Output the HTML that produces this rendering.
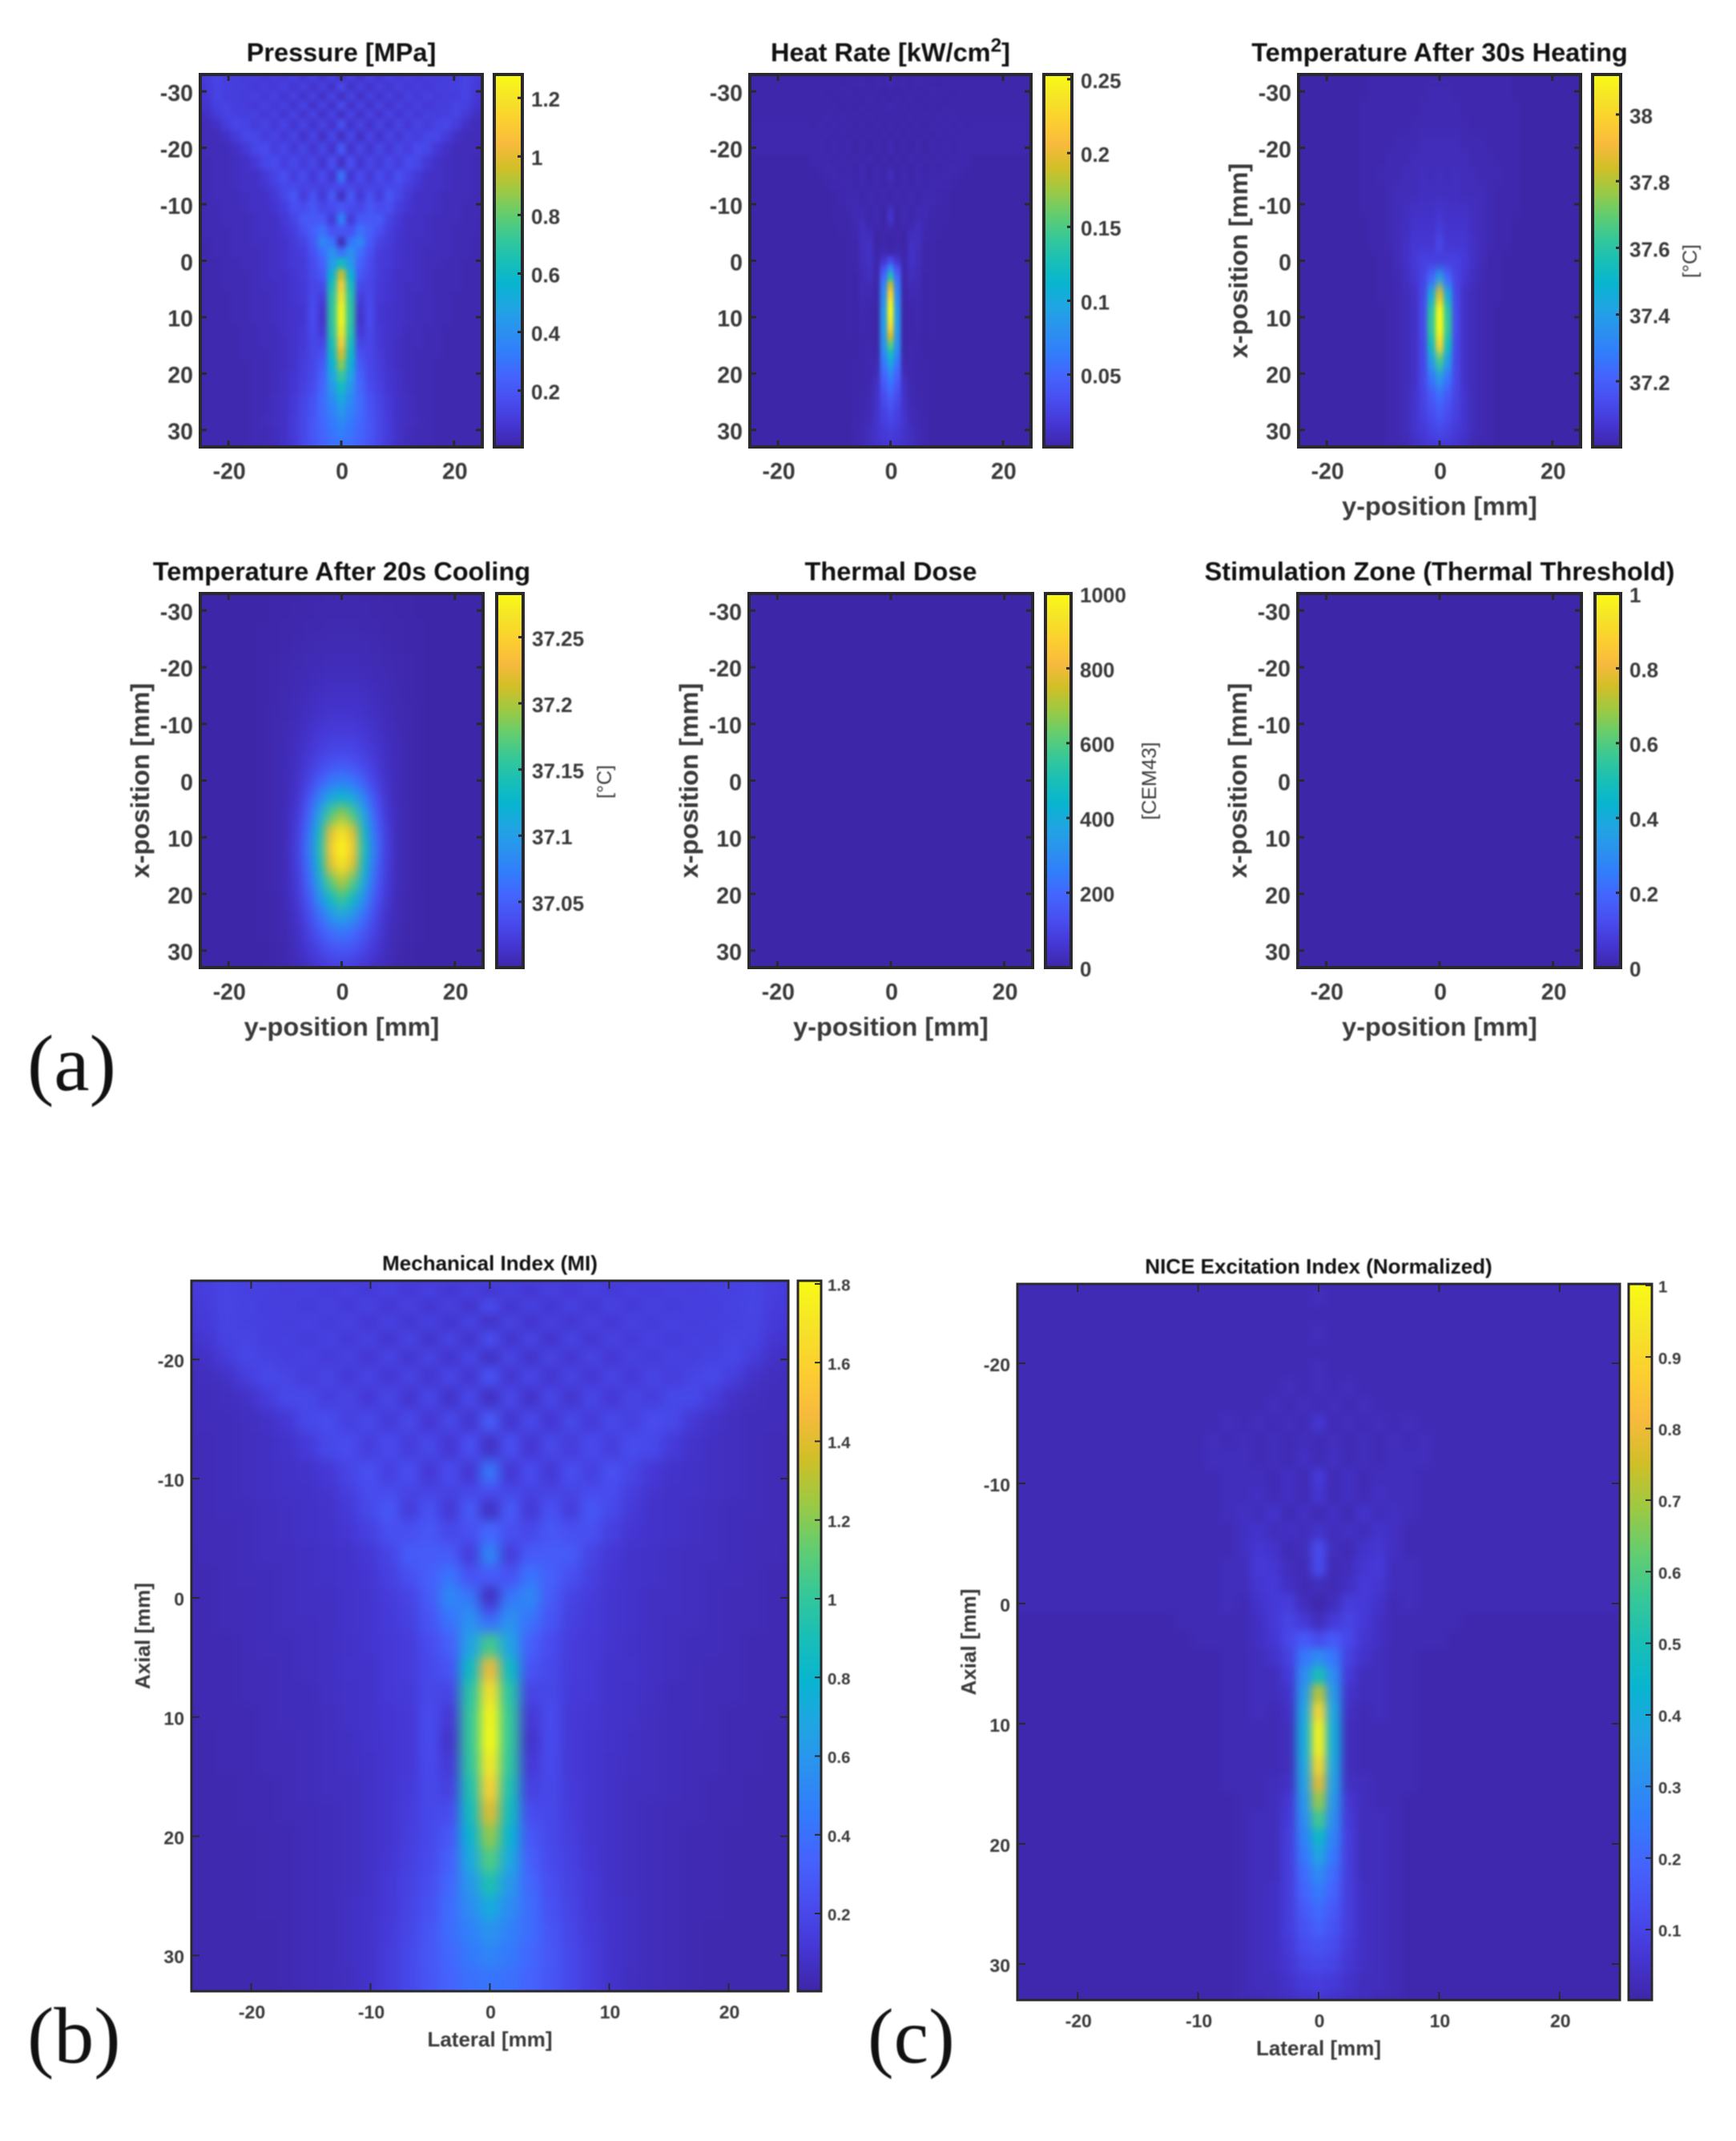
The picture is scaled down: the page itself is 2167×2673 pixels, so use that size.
<!DOCTYPE html>
<html lang="en">
<head>
<meta charset="utf-8">
<title>Ultrasound field maps</title>
<style>
html,body{margin:0;padding:0;background:#fff;}
svg{display:block;}
text{font-family:"Liberation Sans",Arial,sans-serif;}
.soft{filter:blur(0.85px);}
.panel-letter{font-family:"Liberation Serif",serif;fill:#111;}
</style>
</head>
<body>
<svg id="figure" xmlns="http://www.w3.org/2000/svg" width="2167" height="2673" viewBox="0 0 2167 2673">
<rect x="0" y="0" width="2167" height="2673" fill="#ffffff"/>
<g class="soft">
<text class="panel-letter" x="34" y="1361" font-size="100">(a)</text>
<text class="panel-letter" x="34" y="2575" font-size="100">(b)</text>
<text class="panel-letter" x="1083" y="2575" font-size="98">(c)</text>
</g>
</svg>
<script>
// Half-field values (mirrored about lateral 0). Columns run outward from lateral 0; rows run along the axial axis.
// Lattice-aligned lateral positions (mm) used by the pressure and mechanical-index fields.
const latticeLateral = [0,1.7,3.4,5.1,6.8,8.5,10.2,11.9,13.6,15.3,17,18.7,20.4,22.1,23.8,25.5];
// Pressure axial positions (mm).
const pressureAxial = [-32.3,-30.9,-29,-27.5,-25.9,-24.2,-22,-19.9,-17.4,-14.7,-13.1,-11.6,-9.4,-7.3,-5.2,-3.2,-1.5,0.5,2.5,4.5,6.5,8.5,10.5,12.5,14.5,16.5,18.5,20.5,22.5,24.5,26.5,28.5,30.5,32.5];
// Pressure, hundredths of MPa.
const pressureRows = [
[6,12,7,12,8,12,9,11,9,11,10,11,11,13,11,9],
[16,6,12,7,12,8,12,9,11,9,11,11,12,13,10,8],
[5,13,6,12,7,12,8,12,9,12,10,11,11,13,9,7],
[17,6,13,6,13,7,12,9,12,9,11,11,13,12,8,6],
[5,13,6,13,7,13,8,12,9,12,11,12,13,10,6,4],
[18,7,13,7,13,8,13,9,13,10,13,14,11,6,4,4],
[5,14,6,13,7,13,9,13,11,14,14,10,6,4,4,4],
[21,7,14,8,14,9,14,11,16,14,9,6,4,4,4,3],
[6,17,8,14,10,15,11,16,14,9,6,5,4,4,3,3],
[30,8,16,9,16,11,17,13,9,6,6,5,4,4,3,3],
[15,14,12,13,13,15,15,11,8,6,6,5,4,4,3,3],
[5,21,9,18,10,20,14,9,6,6,5,4,4,4,3,3],
[20,16,14,20,16,17,11,8,6,6,5,4,4,3,3,3],
[35,10,21,21,21,13,9,6,6,5,4,4,4,3,3,2],
[20,18,29,23,17,11,8,6,6,5,4,4,3,3,3,2],
[4,30,37,21,13,10,7,6,5,5,4,4,3,3,2,2],
[28,41,28,18,11,9,7,6,5,4,4,4,3,3,2,2],
[62,44,24,16,10,9,7,6,5,4,4,3,3,2,2,2],
[95,55,20,15,10,8,6,6,5,4,3,3,3,2,2,2],
[112,64,15,14,9,8,6,5,5,4,3,3,3,2,2,2],
[120,68,11,15,9,8,6,5,4,4,3,3,2,2,2,2],
[126,70,8,16,8,7,6,5,4,4,3,3,2,2,2,2],
[127,70,7,16,8,7,6,5,4,4,3,3,2,2,2,2],
[122,68,9,15,9,7,6,4,4,3,3,2,2,2,2,2],
[112,64,13,14,9,7,5,4,4,3,3,2,2,2,2,2],
[98,60,17,14,10,7,5,4,3,3,3,2,2,2,2,2],
[85,54,21,14,11,7,5,4,3,3,2,2,2,2,2,2],
[72,48,24,15,11,8,6,4,3,3,2,2,2,2,2,2],
[62,43,26,16,12,8,6,4,3,3,2,2,2,2,2,2],
[52,38,27,18,13,9,6,5,3,3,2,2,2,2,2,2],
[44,35,27,19,14,9,6,5,3,3,2,2,2,2,2,2],
[38,32,26,20,14,10,6,5,4,3,2,2,2,2,2,2],
[34,30,25,20,14,10,6,4,3,3,2,2,2,2,2,2],
[30,28,24,19,14,9,6,4,3,3,2,2,2,2,2,2]
];
// Heat rate, thousandths of kW/cm2; columns every 1.25 mm, rows every 1.5 mm from -33.
const heatRows = [
[2,2,2,2,2,2,2,2,2,2,2,2,2],
[4,2,3,1,3,2,2,1,2,2,2,2,2],
[2,1,2,2,2,1,3,2,2,1,2,2,2],
[1,2,1,3,1,2,2,2,1,2,2,2,2],
[4,2,3,1,3,1,2,1,3,2,2,2,2],
[1,2,1,3,1,3,1,3,2,3,2,2,2],
[4,1,3,1,3,1,3,2,3,2,3,2,3],
[1,3,1,3,1,3,1,3,2,3,2,3,3],
[4,1,3,1,3,1,3,2,3,2,3,3,3],
[5,1,3,1,3,1,3,2,3,2,3,3,3],
[1,3,1,4,1,3,2,3,2,3,3,3,1],
[3,2,3,1,4,1,3,2,3,4,3,2,1],
[9,1,4,1,4,2,3,3,4,3,2,1,1],
[4,1,3,2,4,2,4,4,3,2,1,1,1],
[1,4,2,4,2,4,4,3,2,1,1,1,1],
[2,3,2,5,2,5,5,3,2,1,1,1,1],
[10,1,5,2,5,5,3,2,2,1,1,1,1],
[14,1,5,2,6,5,2,2,2,1,1,1,1],
[6,1,3,4,8,4,2,2,1,1,1,1,1],
[1,2,1,8,9,3,2,2,1,1,1,0,0],
[0,2,1,10,9,2,2,1,1,1,1,0,0],
[2,4,1,11,8,2,2,1,1,1,0,0,0],
[30,14,2,11,8,2,2,1,1,1,0,0,0],
[80,35,2,9,7,2,2,1,1,1,0,0,0],
[135,52,2,9,6,1,2,1,1,0,0,0,0],
[190,68,1,6,6,1,2,1,1,0,0,0,0],
[225,75,1,5,5,1,2,1,1,0,0,0,0],
[245,80,1,3,4,1,2,0,1,0,0,0,0],
[252,85,0,2,4,1,2,0,1,0,0,0,0],
[245,88,0,2,3,1,2,0,1,0,0,0,0],
[225,88,0,2,3,1,2,0,1,0,0,0,0],
[190,84,0,2,2,1,2,0,1,0,0,0,0],
[155,80,1,3,2,1,1,0,1,0,0,0,0],
[125,72,2,3,2,1,1,1,1,0,0,0,0],
[100,62,4,4,2,2,1,1,1,0,0,0,0],
[80,52,6,3,2,2,1,1,1,0,0,0,0],
[65,45,9,3,2,2,1,1,0,0,0,0,0],
[55,38,10,4,2,2,1,1,0,0,0,0,0],
[46,32,12,4,3,2,1,1,0,0,0,0,0],
[38,28,12,5,3,2,1,1,0,0,0,0,0],
[32,24,13,6,4,2,1,1,0,0,0,0,0],
[27,22,14,7,4,3,1,1,0,0,0,0,0],
[22,19,13,8,5,3,1,1,0,0,0,0,0],
[19,17,13,9,5,3,1,1,0,0,0,0,0],
[15,14,11,8,5,2,1,0,0,0,0,0,0]
];
// Temperature rise after heating, hundredths of a degree above 37; columns every 1.5 mm, rows every 3 mm from -33.
const heatingRows = [
[1,1,1,1,1,1,1,1,1,0,0],
[2,2,1,1,1,1,1,1,1,0,0],
[2,2,2,1,1,1,1,1,1,1,0],
[2,2,2,2,1,1,1,1,1,1,0],
[3,3,3,2,2,2,1,1,1,1,0],
[3,3,3,3,2,2,2,1,1,1,0],
[4,3,4,3,3,2,2,2,1,1,0],
[4,4,4,3,3,3,2,1,1,1,0],
[6,5,5,5,4,3,2,1,1,1,0],
[8,6,6,6,4,3,2,1,1,0,0],
[12,7,7,7,5,3,2,1,1,0,0],
[9,10,10,8,5,3,1,1,0,0,0],
[40,22,11,7,4,2,1,1,0,0,0],
[86,44,12,5,3,2,1,1,0,0,0],
[118,60,13,5,3,2,1,0,0,0,0],
[124,62,13,5,3,2,1,0,0,0,0],
[100,54,12,5,3,2,1,0,0,0,0],
[64,38,12,5,3,2,1,0,0,0,0],
[38,26,12,5,3,2,1,0,0,0,0],
[24,18,11,6,3,2,1,0,0,0,0],
[18,14,10,6,3,2,1,0,0,0,0],
[13,11,8,6,3,2,1,0,0,0,0],
[8,7,6,4,2,1,1,0,0,0,0]
];
// Temperature rise after cooling, thousandths of a degree above 37; columns every 2 mm, rows every 3 mm from -33.
const coolingRows = [
[3,3,2,2,1,1,1,0,0],
[3,3,3,2,2,1,1,0,0],
[4,4,3,3,2,2,1,1,0],
[5,5,5,4,3,2,1,1,0],
[7,7,6,5,4,3,2,1,0],
[9,9,8,6,5,3,2,1,0],
[12,12,11,8,6,4,2,1,0],
[15,15,13,10,7,4,3,1,0],
[20,20,17,13,8,5,3,1,0],
[28,27,22,16,10,6,3,1,0],
[42,38,30,20,11,6,3,1,0],
[72,65,46,26,13,6,3,1,0],
[125,110,75,38,15,6,3,1,0],
[195,165,105,50,18,7,3,1,0],
[265,220,130,60,22,7,3,1,0],
[292,240,140,65,24,7,3,1,0],
[265,220,130,60,22,7,3,1,0],
[205,170,110,52,20,7,3,1,0],
[160,130,85,42,17,6,2,1,0],
[105,90,60,32,13,5,2,1,0],
[65,58,42,24,11,4,2,1,0],
[42,38,28,17,9,3,1,0,0],
[25,22,17,10,6,2,1,0,0]
];
// Thermal dose, CEM43; the whole field reads as zero.
const doseRows = [
[0,0,0],
[0,0,0],
[0,0,0]
];
// Stimulation zone mask; the whole field reads as zero.
const stimulationRows = [
[0,0,0],
[0,0,0],
[0,0,0]
];
// Mechanical index axial positions (mm).
const mechanicalAxial = [-27,-25.8,-24.5,-23.1,-21.7,-20.2,-18.6,-16.8,-14.8,-12.9,-10.2,-8.85,-7.5,-5.5,-3.6,-1.8,0,1,2,4,6,8,10,12,14,16,18,20,22,24,26,28,30,32];
// Mechanical index, hundredths.
const mechanicalRows = [
[20,10,16,11,16,12,16,12,16,13,15,15,17,18,15,13],
[9,17,10,17,11,17,12,16,13,16,14,16,16,18,15,12],
[23,9,17,10,17,11,17,12,16,13,16,15,17,18,14,11],
[7,18,9,17,10,17,11,17,13,17,14,16,16,18,13,10],
[24,9,18,9,18,10,17,12,17,13,16,15,18,17,11,8],
[7,19,9,18,10,18,11,17,13,17,15,17,19,14,8,6],
[26,10,19,10,18,11,18,12,18,14,18,20,15,8,6,5],
[7,20,9,19,10,19,12,18,15,20,20,14,8,6,5,5],
[30,10,20,11,20,13,20,16,22,20,12,8,6,5,5,4],
[8,24,11,20,14,21,15,22,20,13,9,7,6,5,4,4],
[42,11,22,12,23,16,24,18,12,9,8,7,6,5,4,4],
[22,20,17,18,18,22,22,15,10,8,8,7,6,5,4,4],
[7,30,12,25,14,28,20,13,9,8,7,6,5,5,4,4],
[36,24,20,28,24,24,16,11,9,8,7,6,5,4,4,4],
[50,14,30,30,30,18,12,9,8,7,6,6,5,4,4,3],
[30,26,42,32,24,16,11,9,8,7,6,5,5,4,3,3],
[6,42,52,30,18,14,10,9,7,7,6,5,4,4,3,3],
[20,52,46,28,17,13,10,9,7,7,6,5,4,4,3,3],
[42,58,40,26,16,13,10,9,7,6,6,5,4,4,3,3],
[105,66,32,22,14,12,10,8,7,6,5,5,4,3,3,3],
[145,84,26,20,14,12,9,9,7,6,5,4,4,3,3,3],
[168,96,18,20,13,12,9,8,7,5,5,4,4,3,3,3],
[178,100,12,22,12,11,9,8,6,5,5,4,3,3,3,2],
[180,100,9,22,12,10,9,7,6,5,4,4,3,3,2,2],
[172,98,12,21,12,10,8,7,6,5,4,4,3,3,2,2],
[160,92,16,20,13,10,8,6,6,5,4,3,3,2,2,2],
[140,86,22,20,14,10,8,6,5,4,4,3,3,2,2,2],
[122,78,28,20,15,10,8,6,5,4,3,3,2,2,2,2],
[108,70,32,21,16,11,8,6,5,4,3,3,2,2,2,2],
[92,60,36,23,17,12,8,6,5,4,3,3,2,2,2,2],
[72,54,38,25,18,12,9,7,5,4,3,3,2,2,2,2],
[58,48,38,27,19,13,9,7,5,4,3,2,2,2,2,2],
[50,44,36,28,20,14,9,7,5,4,3,2,2,2,2,2],
[42,40,34,27,20,14,9,6,5,4,3,2,2,2,2,2]
];
// NICE excitation index, hundredths; columns every 1.25 mm, rows every 1.5 mm from -27.
const niceRows = [
[2,2,2,2,2,2,2,2,2,2,2,2,2],
[3,2,2,2,2,2,2,2,2,2,2,2,2],
[2,2,2,2,2,2,2,2,2,2,2,2,2],
[3,2,2,2,2,2,2,2,2,2,2,2,2],
[2,2,2,2,2,2,2,2,2,2,2,2,2],
[3,2,2,2,2,2,2,2,2,2,2,2,2],
[3,2,3,2,2,2,2,2,2,2,2,2,2],
[2,3,2,3,2,2,2,2,2,2,2,2,2],
[6,2,3,2,3,2,3,2,2,2,2,2,2],
[2,3,2,3,2,3,2,3,2,2,2,2,2],
[2,4,2,3,2,3,3,3,2,2,2,2,2],
[7,2,4,2,3,3,3,2,2,2,2,2,2],
[6,2,4,2,4,3,3,2,2,2,2,2,2],
[2,4,2,5,3,4,3,2,2,2,2,2,2],
[5,3,4,3,5,4,2,2,2,2,2,2,2],
[12,3,2,5,6,4,2,2,2,2,2,2,2],
[12,2,3,6,7,3,3,2,2,2,2,2,2],
[3,2,4,7,6,3,3,2,2,2,2,2,2],
[1,3,8,7,5,2,3,2,2,2,2,2,2],
[3,7,10,7,4,2,2,2,2,2,1,1,1],
[12,16,11,6,4,2,2,2,2,1,1,1,1],
[30,24,9,5,3,2,2,1,1,1,1,1,1],
[50,30,7,3,3,2,2,1,1,1,1,1,1],
[72,34,5,3,3,2,2,1,1,1,1,1,1],
[90,38,4,2,3,2,2,1,1,1,1,1,1],
[98,40,3,2,2,2,2,1,1,1,1,1,1],
[98,40,3,2,2,2,2,1,1,1,1,1,1],
[90,38,3,2,2,2,2,1,1,1,1,1,1],
[78,36,4,3,2,2,2,1,1,1,1,1,1],
[68,33,6,3,2,2,1,1,1,1,1,1,1],
[58,30,7,3,3,2,1,1,1,1,1,1,1],
[46,27,8,3,3,2,1,1,1,1,1,1,1],
[38,24,8,3,3,2,1,1,1,1,1,1,1],
[30,21,8,3,3,2,1,1,1,1,1,1,1],
[25,19,8,4,3,2,1,1,1,1,1,1,1],
[21,16,8,4,3,2,1,1,1,1,1,1,1],
[18,14,8,4,3,2,1,1,1,1,1,1,1],
[14,12,7,4,3,2,1,1,1,1,1,1,1],
[11,10,6,4,3,2,1,1,1,1,1,1,1],
[8,7,5,3,3,2,1,1,1,1,1,1,1],
[6,5,4,3,2,2,1,1,1,1,1,1,1]
];

// Tick labels.
const lateralTicksWide = [-20,0,20];
const axialTicksWide = [-30,-20,-10,0,10,20,30];
const lateralTicksFine = [-20,-10,0,10,20];
const axialTicksFine = [-20,-10,0,10,20,30];
const pressureBarTicks = [0.2,0.4,0.6,0.8,1,1.2];
const heatBarTicks = [0.05,0.1,0.15,0.2,0.25];
const heatingBarTicks = [37.2,37.4,37.6,37.8,38];
const coolingBarTicks = [37.05,37.1,37.15,37.2,37.25];
const doseBarTicks = [0,200,400,600,800,1000];
const stimulationBarTicks = [0,0.2,0.4,0.6,0.8,1];
const mechanicalBarTicks = [0.2,0.4,0.6,0.8,1,1.2,1.4,1.6,1.8];
const niceBarTicks = [0.1,0.2,0.3,0.4,0.5,0.6,0.7,0.8,0.9,1];

const parula = [[62,38,168],[69,55,213],[72,77,240],[69,99,253],[50,124,252],[43,145,239],[32,165,227],[8,181,208],[25,191,182],[55,200,151],[100,205,111],[157,201,67],[209,191,39],[248,186,61],[252,207,48],[245,228,39],[249,251,21]];

const styleLarge = {title:32.5,tick:28.5,label:32.5,bar:26,unit:25,frame:4,tickLen:8,titleGap:16.5,xTickGap:40,xLabelGap:85,yTickGap:9,yLabelGap:64,barGap:11};
const styleSmall = {title:26,tick:23,label:26,bar:20.5,unit:25,frame:3,tickLen:10,titleGap:13,xTickGap:34,xLabelGap:69,yTickGap:9,yLabelGap:52,barGap:8};

const panels = [
{id:'pressure',title:'Pressure [MPa]',ink:[250,93,352,465],bar:[617,93,35,465],yRange:[-33,33],rows:pressureRows,axial:pressureAxial,lateral:latticeLateral,base:0,unit:0.01,cRange:[0.0075,1.28],xTicks:lateralTicksWide,yTicks:axialTicksWide,barTicks:pressureBarTicks,style:styleLarge,blur:'3.5'},
{id:'heat-rate',title:'Heat Rate [kW/cm',sup:'2',titleEnd:']',ink:[936,93,351,465],bar:[1303,93,35,465],yRange:[-33,33],rows:heatRows,yFirst:-33,yStep:1.5,xStep:1.25,base:0,unit:0.001,cRange:[0.001,0.2532],xTicks:lateralTicksWide,yTicks:axialTicksWide,barTicks:heatBarTicks,style:styleLarge,blur:'2.5 3.5'},
{id:'heating-temperature',title:'Temperature After 30s Heating',ink:[1621,93,352,465],bar:[1988,93,35,465],yRange:[-33,33],rows:heatingRows,yFirst:-33,yStep:3,xStep:1.5,base:37,unit:0.01,cRange:[37.003,38.12],xTicks:lateralTicksWide,yTicks:axialTicksWide,barTicks:heatingBarTicks,style:styleLarge,blur:'3 7',xLabel:'y-position [mm]',yLabel:'x-position [mm]',unitLabel:'[°C]',unitX:2118,unitY:326},
{id:'cooling-temperature',title:'Temperature After 20s Cooling',ink:[250,741,353,467],bar:[620,741,33,467],yRange:[-33,33],rows:coolingRows,yFirst:-33,yStep:3,xStep:2,base:37,unit:0.001,cRange:[37.0003,37.283],xTicks:lateralTicksWide,yTicks:axialTicksWide,barTicks:coolingBarTicks,style:styleLarge,blur:'6 8',xLabel:'y-position [mm]',yLabel:'x-position [mm]',unitLabel:'[°C]',unitX:763,unitY:976},
{id:'thermal-dose',title:'Thermal Dose',ink:[935,741,354,467],bar:[1305,741,32,467],yRange:[-33,33],rows:doseRows,yFirst:-33,yStep:33,xStep:12.5,base:0,unit:1,cRange:[0,1000],xTicks:lateralTicksWide,yTicks:axialTicksWide,barTicks:doseBarTicks,style:styleLarge,blur:'4',xLabel:'y-position [mm]',yLabel:'x-position [mm]',unitLabel:'[CEM43]',unitX:1443,unitY:975},
{id:'stimulation-zone',title:'Stimulation Zone (Thermal Threshold)',ink:[1620,741,354,467],bar:[1991,741,32,467],yRange:[-33,33],rows:stimulationRows,yFirst:-33,yStep:33,xStep:12.5,base:0,unit:1,cRange:[0,1],xTicks:lateralTicksWide,yTicks:axialTicksWide,barTicks:stimulationBarTicks,style:styleLarge,blur:'4',xLabel:'y-position [mm]',yLabel:'x-position [mm]'},
{id:'mechanical-index',title:'Mechanical Index (MI)',ink:[239,1599,745,887],bar:[996,1599,29,887],yRange:[-26.6,33],rows:mechanicalRows,axial:mechanicalAxial,lateral:latticeLateral,base:0,unit:0.01,cRange:[0.0025,1.808],xTicks:lateralTicksFine,yTicks:axialTicksFine,barTicks:mechanicalBarTicks,style:styleSmall,blur:'7.5',xLabel:'Lateral [mm]',yLabel:'Axial [mm]'},
{id:'nice-index',title:'NICE Excitation Index (Normalized)',ink:[1270,1603,752,894],bar:[2033,1603,29,894],yRange:[-26.6,33],rows:niceRows,yFirst:-27,yStep:1.5,xStep:1.25,base:0,unit:0.01,cRange:[0.0016,1.002],xTicks:lateralTicksFine,yTicks:axialTicksFine,barTicks:niceBarTicks,style:styleSmall,blur:'5.5',xLabel:'Lateral [mm]',yLabel:'Axial [mm]'}
];

const NS = 'http://www.w3.org/2000/svg';
const figure = document.getElementById('figure');

function make(tag, attrs, parent){
  const node = document.createElementNS(NS, tag);
  for(const k in attrs){ node.setAttribute(k, attrs[k]); }
  parent.appendChild(node);
  return node;
}
function parulaAt(t){
  const f = Math.max(0, Math.min(1, t)) * (parula.length - 1);
  const i = Math.min(parula.length - 2, Math.floor(f));
  const w = f - i;
  const a = parula[i], b = parula[i + 1];
  return 'rgb(' + Math.round(a[0] + (b[0] - a[0]) * w) + ',' + Math.round(a[1] + (b[1] - a[1]) * w) + ',' + Math.round(a[2] + (b[2] - a[2]) * w) + ')';
}
const defs = make('defs', {}, figure);

panels.forEach(function(p){
  const [bx, by, bw, bh] = p.ink;
  const s = p.style;
  const xMin = -25, xMax = 25;
  const xScale = function(v){ return bx + (v - xMin) / (xMax - xMin) * bw; };
  const yScale = function(v){ return by + (v - p.yRange[0]) / (p.yRange[1] - p.yRange[0]) * bh; };
  const cScale = function(v){ return (v - p.cRange[0]) / (p.cRange[1] - p.cRange[0]); };
  const barY = function(v){ return by + bh - cScale(v) * bh; };

  const group = make('g', {}, figure);
  
  

  const clip = make('clipPath', {id: 'clip-' + p.id}, defs);
  make('rect', {x: bx, y: by, width: bw, height: bh}, clip);
  const filter = make('filter', {id: 'blur-' + p.id, filterUnits: 'userSpaceOnUse', x: bx - 60, y: by - 60, width: bw + 120, height: bh + 120, 'color-interpolation-filters': 'sRGB'}, defs);
  make('feGaussianBlur', {stdDeviation: p.blur}, filter);

  const field = make('g', {'clip-path': 'url(#clip-' + p.id + ')'}, group);
  
  
  const cells = make('g', {filter: 'url(#blur-' + p.id + ')', 'shape-rendering': 'crispEdges'}, field);

  const pad = 40;
  const axial = p.axial || p.rows.map(function(_, r){ return p.yFirst + r * p.yStep; });
  const lateral = p.lateral || p.rows[0].map(function(_, c){ return c * p.xStep; });
  const lastRow = p.rows.length - 1;
  const lastCol = lateral.length - 1;
  p.rows.forEach(function(row, r){
    const y0 = r === 0 ? by - pad : yScale((axial[r - 1] + axial[r]) / 2);
    const y1 = r === lastRow ? by + bh + pad : yScale((axial[r] + axial[r + 1]) / 2);
    row.forEach(function(value, c){
      const fill = parulaAt(cScale(p.base + value * p.unit));
      const inner = c === 0 ? xScale(-lateral[1] / 2) : xScale((lateral[c - 1] + lateral[c]) / 2);
      const outer = c === lastCol ? bx + bw + pad : xScale((lateral[c] + lateral[c + 1]) / 2);
      const right = make('rect', {x: inner - 0.3, y: y0 - 0.3, width: outer - inner + 0.6, height: y1 - y0 + 0.6, fill: fill}, cells);
      
      
      if(c > 0){
        const mOuter = 2 * xScale(0) - outer;
        const mInner = 2 * xScale(0) - inner;
        const left = make('rect', {x: mOuter - 0.3, y: y0 - 0.3, width: mInner - mOuter + 0.6, height: y1 - y0 + 0.6, fill: fill}, cells);
        
        
      }
    });
  });

  const frame = make('rect', {x: bx, y: by, width: bw, height: bh, fill: 'none', stroke: '#2a2a2e', 'stroke-width': s.frame}, group);
  
  

  const labels = make('g', {class: 'soft'}, group);

  p.xTicks.forEach(function(v){
    const x = xScale(v);
    const t1 = make('line', {x1: x, x2: x, y1: by, y2: by + s.tickLen, stroke: '#2a2a2e', 'stroke-width': s.frame - 1}, group);
    
    
    const t2 = make('line', {x1: x, x2: x, y1: by + bh, y2: by + bh - s.tickLen, stroke: '#2a2a2e', 'stroke-width': s.frame - 1}, group);
    
    
    const lab = make('text', {x: x + 1, y: by + bh + s.xTickGap, 'text-anchor': 'middle', 'font-size': s.tick, 'font-weight': 'bold', fill: '#3a3a3a'}, labels);
    lab.textContent = String(v);
    
    
  });
  p.yTicks.forEach(function(v){
    const y = yScale(v);
    const t1 = make('line', {x1: bx, x2: bx + s.tickLen, y1: y, y2: y, stroke: '#2a2a2e', 'stroke-width': s.frame - 1}, group);
    
    
    const t2 = make('line', {x1: bx + bw, x2: bx + bw - s.tickLen, y1: y, y2: y, stroke: '#2a2a2e', 'stroke-width': s.frame - 1}, group);
    
    
    const lab = make('text', {x: bx - s.yTickGap, y: y + s.tick * 0.36 + 1.5, 'text-anchor': 'end', 'font-size': s.tick, 'font-weight': 'bold', fill: '#3a3a3a'}, labels);
    lab.textContent = String(v);
    
    
  });

  const title = make('text', {x: bx + bw / 2, y: by - s.titleGap, 'text-anchor': 'middle', 'font-size': s.title, 'font-weight': 'bold', fill: '#111111'}, labels);
  
  
  if(p.sup){
    make('tspan', {}, title).textContent = p.title;
    make('tspan', {dy: -12, 'font-size': s.title * 0.75}, title).textContent = p.sup;
    make('tspan', {dy: 12}, title).textContent = p.titleEnd;
  } else {
    title.textContent = p.title;
  }
  if(p.xLabel){
    const xl = make('text', {x: bx + bw / 2, y: by + bh + s.xLabelGap, 'text-anchor': 'middle', 'font-size': s.label, 'font-weight': 'bold', fill: '#3a3a3a'}, labels);
    xl.textContent = p.xLabel;
    
    
  }
  if(p.yLabel){
    const lx = bx - s.yLabelGap, ly = by + bh / 2;
    const yl = make('text', {x: lx, y: ly, 'text-anchor': 'middle', transform: 'rotate(-90 ' + lx + ' ' + ly + ')', 'font-size': s.label, 'font-weight': 'bold', fill: '#3a3a3a'}, labels);
    yl.textContent = p.yLabel;
    
    
  }

  // Colorbar
  const [cx, cy, cw, ch] = p.bar;
  const grad = make('linearGradient', {id: 'grad-' + p.id, x1: 0, y1: 1, x2: 0, y2: 0}, defs);
  parula.forEach(function(col, i){
    make('stop', {offset: i / (parula.length - 1), 'stop-color': 'rgb(' + col.join(',') + ')'}, grad);
  });
  const barRect = make('rect', {x: cx, y: cy, width: cw, height: ch, fill: 'url(#grad-' + p.id + ')', stroke: '#2a2a2e', 'stroke-width': s.frame}, group);
  
  
  p.barTicks.forEach(function(v){
    const y = barY(v);
    const t = make('line', {x1: cx + cw, x2: cx + cw - s.tickLen + 2, y1: y, y2: y, stroke: '#2a2a2e', 'stroke-width': s.frame - 1}, group);
    
    
    const lab = make('text', {x: cx + cw + s.barGap, y: y + s.bar * 0.42, 'font-size': s.bar, 'font-weight': 'bold', fill: '#3a3a3a'}, labels);
    lab.textContent = String(v);
    
    
  });
  if(p.unitLabel){
    const u = make('text', {x: p.unitX, y: p.unitY, 'text-anchor': 'middle', transform: 'rotate(-90 ' + p.unitX + ' ' + p.unitY + ')', 'font-size': s.unit, fill: '#3a3a3a'}, labels);
    u.textContent = p.unitLabel;
    
    
  }
});
</script>
</body>
</html>
